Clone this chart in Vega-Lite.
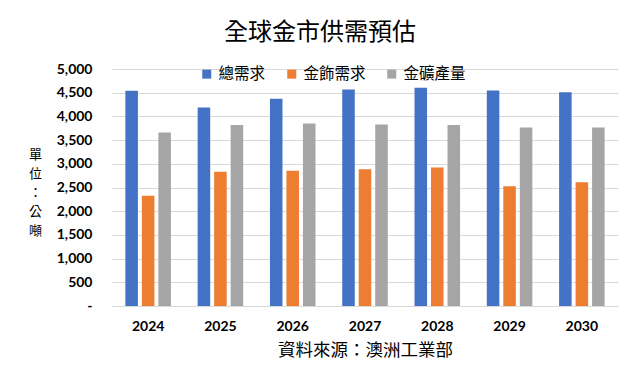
{
  "$schema": "https://vega.github.io/schema/vega-lite/v6.json",
  "width": 506,
  "height": 237,
  "autosize": {"type": "none"},
  "padding": {"left": 112, "top": 69, "right": 22, "bottom": 84},
  "background": "white",
  "title": {
    "text": "全球金市供需預估",
    "font": "Noto Sans CJK TC",
    "fontSize": 24,
    "fontWeight": "normal",
    "color": "#000000",
    "anchor": "middle",
    "dx": -45,
    "offset": 17
  },
  "config": {
    "view": {"stroke": null},
    "axis": {"labelFont": "Lato", "titleFont": "Noto Sans CJK TC"}
  },
  "data": {
    "values": [
      {"year": "2024", "series": "總需求", "value": 4542},
      {"year": "2024", "series": "金飾需求", "value": 2324},
      {"year": "2024", "series": "金礦產量", "value": 3662},
      {"year": "2025", "series": "總需求", "value": 4190},
      {"year": "2025", "series": "金飾需求", "value": 2831},
      {"year": "2025", "series": "金礦產量", "value": 3817},
      {"year": "2026", "series": "總需求", "value": 4373},
      {"year": "2026", "series": "金飾需求", "value": 2852},
      {"year": "2026", "series": "金礦產量", "value": 3852},
      {"year": "2027", "series": "總需求", "value": 4570},
      {"year": "2027", "series": "金飾需求", "value": 2887},
      {"year": "2027", "series": "金礦產量", "value": 3831},
      {"year": "2028", "series": "總需求", "value": 4606},
      {"year": "2028", "series": "金飾需求", "value": 2922},
      {"year": "2028", "series": "金礦產量", "value": 3817},
      {"year": "2029", "series": "總需求", "value": 4549},
      {"year": "2029", "series": "金飾需求", "value": 2528},
      {"year": "2029", "series": "金礦產量", "value": 3767},
      {"year": "2030", "series": "總需求", "value": 4507},
      {"year": "2030", "series": "金飾需求", "value": 2613},
      {"year": "2030", "series": "金礦產量", "value": 3767}
    ]
  },
  "mark": {"type": "bar"},
  "encoding": {
    "x": {
      "field": "year",
      "type": "nominal",
      "scale": {"paddingInner": 0.37, "paddingOuter": 0.185},
      "axis": {
        "title": "資料來源：澳洲工業部",
        "titleFontSize": 17.5,
        "titleFontWeight": "normal",
        "titleColor": "#000000",
        "titlePadding": 8,
        "labelAngle": 0,
        "labelFontSize": 14,
        "labelFontWeight": "bold",
        "labelColor": "#000000",
        "labelPadding": 13,
        "ticks": false,
        "domainColor": "#D9D9D9",
        "domainWidth": 1
      }
    },
    "xOffset": {
      "field": "series",
      "type": "nominal",
      "sort": ["總需求", "金飾需求", "金礦產量"],
      "scale": {"paddingInner": 0.24, "paddingOuter": 0}
    },
    "y": {
      "field": "value",
      "type": "quantitative",
      "scale": {"domain": [0, 5000]},
      "axis": {
        "values": [0, 500, 1000, 1500, 2000, 2500, 3000, 3500, 4000, 4500, 5000],
        "labelExpr": "datum.value == 0 ? '-' : format(datum.value, ',')",
        "labelFontSize": 14,
        "labelFontWeight": "bold",
        "labelColor": "#000000",
        "labelPadding": 20,
        "ticks": false,
        "domain": false,
        "gridColor": "#D9D9D9",
        "gridWidth": 1,
        "title": ["單", "位", "：", "公", "噸"],
        "titleAngle": 0,
        "titleAlign": "center",
        "titleBaseline": "middle",
        "titleFontSize": 13,
        "titleFontWeight": "normal",
        "titleColor": "#000000",
        "titleLineHeight": 19,
        "titleX": -77,
        "titleY": 85
      }
    },
    "color": {
      "field": "series",
      "type": "nominal",
      "sort": ["總需求", "金飾需求", "金礦產量"],
      "scale": {
        "domain": ["總需求", "金飾需求", "金礦產量"],
        "range": ["#4472C4", "#ED7D31", "#A5A5A5"]
      },
      "legend": {
        "title": null,
        "orient": "none",
        "direction": "horizontal",
        "legendX": 87,
        "legendY": -3,
        "symbolType": "square",
        "symbolSize": 81,
        "symbolStrokeWidth": 0,
        "labelFont": "Noto Sans CJK TC",
        "labelFontSize": 15.5,
        "labelColor": "#000000",
        "labelOffset": 4,
        "columnPadding": 18
      }
    }
  }
}
